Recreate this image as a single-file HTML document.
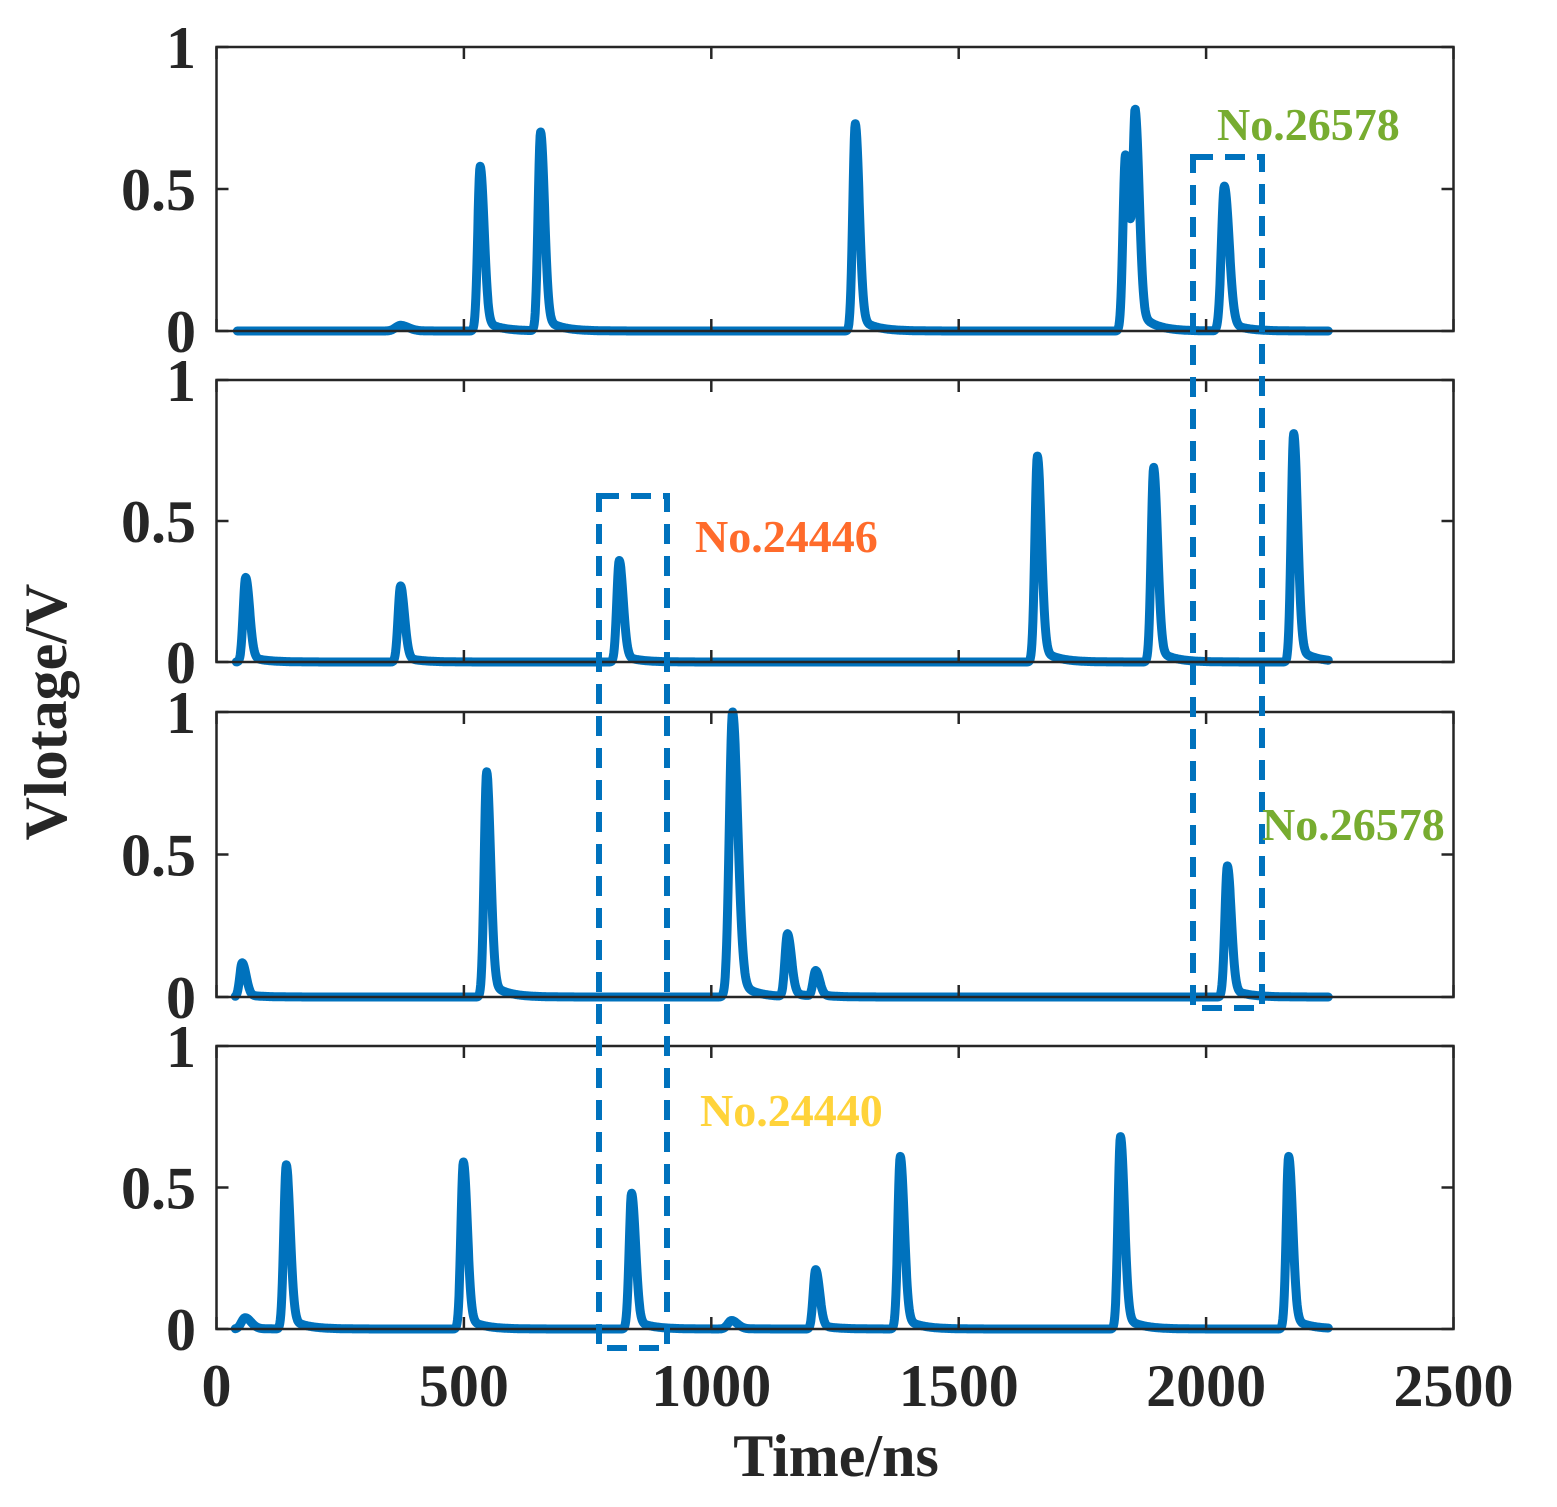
<!DOCTYPE html>
<html><head><meta charset="utf-8"><style>
html,body{margin:0;padding:0;background:#fff}
svg{display:block}
text{font-family:"Liberation Serif",serif;font-weight:bold}
</style></head><body>
<svg id="s" width="1557" height="1507" xmlns="http://www.w3.org/2000/svg"></svg>
<script>
const s=document.getElementById('s');
const X0=216.5,X1=1453.5,sx=(X1-X0)/2500;
const panels=[
 {top:47,bot:331,peaks:[[372,0.02,2],[533,0.58,1],[655,0.70,1],[1291,0.73,1],[1837,0.62,1],[1857,0.73,1],[2037,0.51,1.2]],t0:42},
 {top:380,bot:662,peaks:[[59,0.30,1],[372,0.27,1],[814,0.36,1],[1659,0.73,1],[1894,0.69,1],[2177,0.81,1]],t0:40},
 {top:712,bot:997,peaks:[[52,0.12,1],[546,0.79,1],[1043,1.0,1.3],[1154,0.22,1],[1211,0.09,1],[2043,0.46,1]],t0:38},
 {top:1046,bot:1329,peaks:[[58,0.04,1.5],[141,0.58,1],[499,0.59,1],[839,0.48,1],[1041,0.03,1.5],[1211,0.21,1],[1382,0.61,1],[1827,0.68,1],[2167,0.61,1]],t0:38}
];
let h='';
panels.forEach((p,i)=>{
 const H=p.bot-p.top, Y=v=>p.bot-v*H, Xp=t=>X0+t*sx;
 let d='';
 for(let t=p.t0;t<=2247;t+=1){
  let v=0;
  p.peaks.forEach(([c,a,w])=>{
   const dt=t-c;
   if(dt<0) v+=a*Math.exp(-(dt*dt)/(2*(5*w)*(5*w)));
   else v+=a*(0.92*Math.exp(-(dt*dt)/(2*(8*w)*(8*w)))+0.08*Math.exp(-dt/30));
  });
  d+=(d?'L':'M')+Xp(t).toFixed(1)+','+Y(v).toFixed(1);
 }
 h+=`<path d="${d}" fill="none" stroke="#0072bd" stroke-width="9" stroke-linejoin="round" stroke-linecap="round"/>`;
 h+=`<rect x="${X0}" y="${p.top}" width="${X1-X0}" height="${H}" fill="none" stroke="#262626" stroke-width="2.5"/>`;
 [0,0.5,1].forEach(v=>{
  const y=Y(v);
  h+=`<line x1="${X0}" x2="${X0+12}" y1="${y}" y2="${y}" stroke="#262626" stroke-width="2.5"/>`;
  h+=`<line x1="${X1-12}" x2="${X1}" y1="${y}" y2="${y}" stroke="#262626" stroke-width="2.5"/>`;
  h+=`<text x="196" y="${y+21}" font-size="60" text-anchor="end" fill="#262626">${v}</text>`;
 });
 for(let t=0;t<=2500;t+=500){
  const x=Xp(t);
  h+=`<line x1="${x}" x2="${x}" y1="${p.top}" y2="${p.top+12}" stroke="#262626" stroke-width="2.5"/>`;
  h+=`<line x1="${x}" x2="${x}" y1="${p.bot-12}" y2="${p.bot}" stroke="#262626" stroke-width="2.5"/>`;
 }
});
for(let t=0;t<=2500;t+=500){
 h+=`<text x="${X0+t*sx}" y="1406" font-size="60" text-anchor="middle" fill="#262626">${t}</text>`;
}
h+=`<text x="836" y="1476" font-size="60" text-anchor="middle" fill="#262626">Time/ns</text>`;
h+=`<text transform="translate(66,712) rotate(-90)" font-size="60" text-anchor="middle" fill="#262626">Vlotage/V</text>`;
h+=`<rect x="599" y="496" width="68" height="852" fill="none" stroke="#0072bd" stroke-width="6" stroke-dasharray="20,12"/>`;
h+=`<rect x="1193" y="157" width="69" height="851" fill="none" stroke="#0072bd" stroke-width="6" stroke-dasharray="20,12"/>`;
h+=`<text x="1217" y="140" font-size="46" fill="#77ac30">No.26578</text>`;
h+=`<text x="695" y="552" font-size="46" fill="#ff6b2b">No.24446</text>`;
h+=`<text x="1262" y="840" font-size="46" fill="#77ac30">No.26578</text>`;
h+=`<text x="700" y="1126" font-size="46" fill="#ffd33a">No.24440</text>`;
s.innerHTML=h;
</script>
</body></html>
